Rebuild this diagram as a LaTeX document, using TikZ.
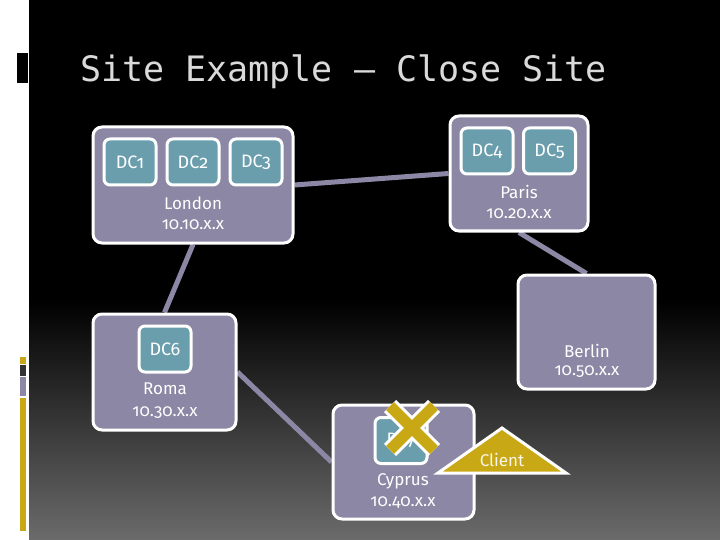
\documentclass[tikz,border=0pt]{standalone}
\usepackage{fontspec}
\setmainfont{Fira Sans}[Numbers=OldStyle]
\newfontfamily\titlefont{DejaVu Sans Mono}
\definecolor{boxfill}{HTML}{8B87A4}
\definecolor{dcfill}{HTML}{6A9EAD}
\definecolor{gold}{HTML}{C9A816}
\definecolor{titlegray}{HTML}{DADADA}
\definecolor{darkbar}{HTML}{333333}
\pgfdeclarelayer{back}
\pgfdeclarelayer{edges}
\pgfsetlayers{back,edges,main}
\tikzset{
  site/.style={draw=white, line width=3pt, fill=boxfill, rounded corners=9pt, inner sep=0pt},
  dc/.style={draw=white, line width=3pt, fill=dcfill, rounded corners=6pt, inner sep=0pt,
    minimum width=52pt, minimum height=46pt, text=white, font=\fontsize{18}{20}\selectfont},
  city/.style={text=white, inner sep=0pt, font=\fontsize{17}{19}\selectfont},
  ip/.style={text=white, inner sep=0pt, font=\fontsize{17}{19}\selectfont},
  link/.style={draw=boxfill, line width=5pt},
}
\begin{document}
\begin{tikzpicture}[x=1pt, y=-1pt]
\useasboundingbox (0,0) rectangle (720,540);
\begin{pgfonlayer}{back}
  \fill[white] (0,0) rectangle (29,540);
  \fill[black] (29,0) rectangle (720,301);
  \shade[top color=black, bottom color=black!58!white] (29,300) rectangle (720,540);
  \fill[black] (17,53) rectangle (28,83);
  \fill[gold] (20,357) rectangle (26,364);
  \fill[darkbar] (20,365) rectangle (26,376);
  \fill[boxfill] (20,377) rectangle (26,396);
  \fill[gold] (20,398) rectangle (26,531);
\end{pgfonlayer}

\node[anchor=base west, inner sep=0pt, text=titlegray, font=\titlefont\fontsize{35}{40}\selectfont] (title) at (80,82) {Site Example – Close Site};

% London
\node[site, minimum width=200pt, minimum height=116pt] (london) at (193,185) {};
\node[dc] (dc1) at (130,162) {DC1};
\node[dc] (dc2) at (193,162) {DC2};
\node[dc] (dc3) at (256,162) {DC3};
\node[city] (londonname) at (193,203) {London};
\node[ip] (londonip) at (193,225) {10.10.x.x};

% Paris
\node[site, minimum width=138pt, minimum height=115pt] (paris) at (519,173.5) {};
\node[dc] (dc4) at (487,151) {DC4};
\node[dc] (dc5) at (549.5,151) {DC5};
\node[city] (parisname) at (519,192) {Paris};
\node[ip] (parisip) at (519,214) {10.20.x.x};

% Berlin
\node[site, minimum width=137pt, minimum height=114pt] (berlin) at (586.5,332) {};
\node[city] (berlinname) at (587,351) {Berlin};
\node[ip] (berlinip) at (587,372) {10.50.x.x};

% Roma
\node[site, minimum width=143pt, minimum height=116pt] (roma) at (164.5,372) {};
\node[dc] (dc6) at (165,349) {DC6};
\node[city] (romaname) at (165,389) {Roma};
\node[ip] (romaip) at (165,413) {10.30.x.x};

% Cyprus
\node[site, minimum width=141pt, minimum height=114pt] (cyprus) at (403.5,462) {};
\node[dc] (dc7) at (401,440.5) {DC7};
\node[city] (cyprusname) at (403,481) {Cyprus};
\node[ip] (cyprusip) at (403,503) {10.40.x.x};

% cross over DC7
\draw[white, line width=17pt] (390,406) -- (434,450) (434,406) -- (390,450);
\draw[gold, line width=11pt] (390,406) -- (434,450) (434,406) -- (390,450);

% Client
\draw[white, line width=3pt, fill=gold, line join=miter] (438,473) -- (502,428) -- (566,473) -- cycle;
\node[inner sep=0pt, text=white!90!gold, font=\fontsize{17}{19}\selectfont] (client) at (502,460) {Client};

\begin{pgfonlayer}{edges}
  \draw[link] (london.east) -- (paris.west);
  \draw[link] (london.south) -- (roma.north);
  \draw[link] (paris.south) -- (berlin.north);
  \draw[link] (roma.east) -- (cyprus.west);
\end{pgfonlayer}
\end{tikzpicture}
\end{document}
